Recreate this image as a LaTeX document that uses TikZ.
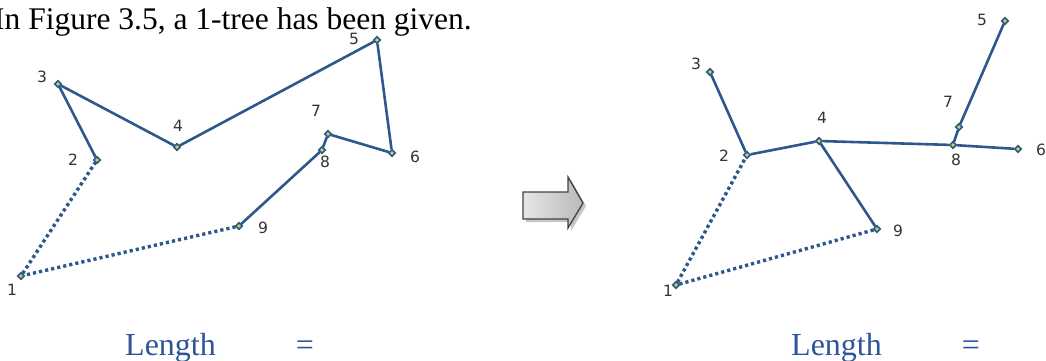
\documentclass[tikz,border=0pt]{standalone}
\usepackage{fontspec}
\setmainfont{Liberation Serif}
\newfontfamily\labfont{DejaVu Sans}
\usetikzlibrary{shapes.geometric}
\definecolor{edgeblue}{RGB}{44,88,140}
\definecolor{txtblue}{RGB}{47,85,151}
\definecolor{vfill}{RGB}{205,215,70}
\begin{document}
\begin{tikzpicture}[x=1pt,y=-1pt,
  vtx/.style={diamond,draw=edgeblue,fill=vfill,line width=1.6pt,inner sep=0pt,minimum size=7pt},
  edge/.style={draw=edgeblue,line width=2.6pt},
  dotedge/.style={draw=edgeblue,line width=3.4pt,dash pattern=on 3.2pt off 3pt},
  lab/.style={font=\labfont\fontsize{15.5}{18}\selectfont,text=black!80,inner sep=0pt},
  big/.style={font=\fontsize{31.5}{38}\selectfont,inner sep=0pt},
  lenstyle/.style={font=\fontsize{32}{38}\selectfont,inner sep=0pt,text=txtblue}]
\useasboundingbox (0,0) rectangle (1046,360);
\clip (0,0) rectangle (1046,360);

% heading
\node[big,anchor=base west] (title) at (-6,29) {In Figure 3.5, a 1-tree has been given.};

% ---------- left graph (tour) ----------
\node[vtx] (a1) at (21,276) {};
\node[vtx] (a2) at (97,160) {};
\node[vtx] (a3) at (58,84) {};
\node[vtx] (a4) at (177,147) {};
\node[vtx] (a5) at (377,40) {};
\node[vtx] (a6) at (392,153) {};
\node[vtx] (a7) at (328,134) {};
\node[vtx] (a8) at (322,150) {};
\node[vtx] (a9) at (239,226) {};
\draw[edge] (a3) -- (a2);
\draw[edge] (a3) -- (a4);
\draw[edge] (a4) -- (a5);
\draw[edge] (a5) -- (a6);
\draw[edge] (a6) -- (a7);
\draw[edge] (a7) -- (a8);
\draw[edge] (a8) -- (a9);
\draw[dotedge] (a9) -- (a1);
\draw[dotedge] (a1) -- (a2);
\node[lab] (la1) at (12,290) {1};
\node[lab] (la2) at (73,160) {2};
\node[lab] (la3) at (42,77) {3};
\node[lab] (la4) at (178,126) {4};
\node[lab] (la5) at (354,39) {5};
\node[lab] (la6) at (415,157) {6};
\node[lab] (la7) at (316,111) {7};
\node[lab] (la8) at (325,162) {8};
\node[lab] (la9) at (263,228) {9};

% ---------- arrow ----------
\fill[gray!45] (526,195) -- (571,195) -- (571,180) -- (586,206) -- (571,231) -- (571,222) -- (526,222) -- cycle;
\shade[left color=gray!20,right color=gray!55,draw=gray!50!black,line width=1.3pt]
  (523,192) -- (568,192) -- (568,177) -- (583,203) -- (568,228) -- (568,219) -- (523,219) -- cycle;

% ---------- right graph (1-tree) ----------
\node[vtx] (b1) at (676,285) {};
\node[vtx] (b2) at (747,155) {};
\node[vtx] (b3) at (710,72) {};
\node[vtx] (b4) at (819,141) {};
\node[vtx] (b5) at (1005,21) {};
\node[vtx] (b6) at (1018,149) {};
\node[vtx] (b7) at (959,127) {};
\node[vtx] (b8) at (953,145) {};
\node[vtx] (b9) at (877,229) {};
\draw[edge] (b3) -- (b2);
\draw[edge] (b2) -- (b4);
\draw[edge] (b4) -- (b8);
\draw[edge] (b8) -- (b6);
\draw[edge] (b8) -- (b7);
\draw[edge] (b7) -- (b5);
\draw[edge] (b4) -- (b9);
\draw[dotedge] (b1) -- (b2);
\draw[dotedge] (b1) -- (b9);
\node[lab] (lb1) at (668,291) {1};
\node[lab] (lb2) at (724,156) {2};
\node[lab] (lb3) at (696,64) {3};
\node[lab] (lb4) at (822,118) {4};
\node[lab] (lb5) at (982,20) {5};
\node[lab] (lb6) at (1041,150) {6};
\node[lab] (lb7) at (948,102) {7};
\node[lab] (lb8) at (956,160) {8};
\node[lab] (lb9) at (898,231) {9};

% ---------- length captions ----------
\node[lenstyle,anchor=base west] (lenL) at (125,355) {Length};
\node[lenstyle,anchor=base] (eqL) at (305,355) {=};
\node[lenstyle,anchor=base west] (lenR) at (791,355) {Length};
\node[lenstyle,anchor=base] (eqR) at (971,355) {=};
\end{tikzpicture}
\end{document}
